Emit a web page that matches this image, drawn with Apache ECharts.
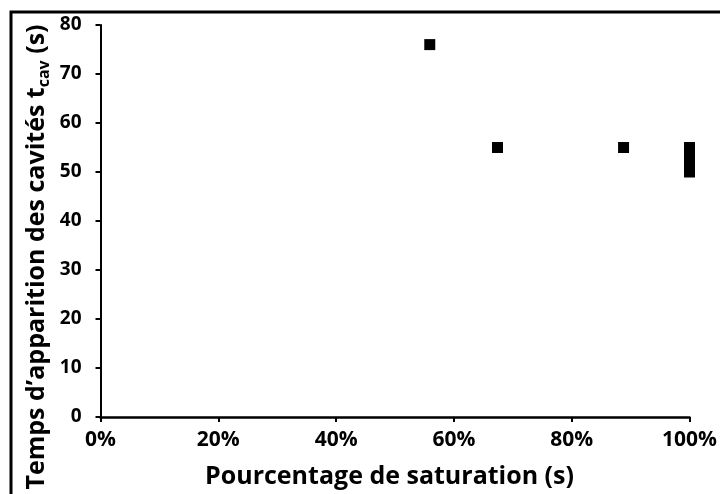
<!DOCTYPE html>
<html>
<head>
<meta charset="utf-8">
<script src="https://cdn.jsdelivr.net/npm/echarts@6/dist/echarts.min.js"></script>
<style>html,body{margin:0;padding:0;background:#fff}#c{width:720px;height:494px}</style>
</head>
<body>
<div id="c"></div>
<script>
var saturationPct = [55.9, 67.4, 88.8, 100, 100, 100, 100, 100, 100];
var tcavSeconds   = [76, 55, 55, 55, 54, 53, 52, 51, 50];
var xTitle = 'Pourcentage de saturation (s)';
var yTitleMain = 'Temps d’apparition des cavités t';
var yTitleSub = 'cav';
var yTitleEnd = ' (s)';

var FONT = 'Open Sans';
var points = saturationPct.map(function (x, i) { return [x, tcavSeconds[i]]; });

var chart = echarts.init(document.getElementById('c'), null, {renderer: 'canvas'});
chart.setOption({
  animation: false,
  backgroundColor: '#ffffff',
  grid: {left: 100.5, right: 25, top: 25, bottom: 76, containLabel: false},
  xAxis: {
    type: 'value', min: 0, max: 100, interval: 20,
    name: xTitle, nameLocation: 'middle', nameGap: 47,
    nameTextStyle: {fontFamily: FONT, fontWeight: 'bold', fontSize: 25, color: '#000', padding: [0, 11, 0, 0]},
    axisLine: {show: true, lineStyle: {color: '#000', width: 2.5}},
    axisTick: {show: true, inside: false, length: 5, lineStyle: {color: '#000', width: 2}},
    axisLabel: {formatter: '{value}%', margin: 13, fontFamily: FONT, fontWeight: 'bold', fontSize: 21, color: '#000'},
    splitLine: {show: false}
  },
  yAxis: {
    type: 'value', min: 0, max: 80, interval: 10,
    axisLine: {show: true, lineStyle: {color: '#000', width: 2}},
    axisTick: {show: true, inside: false, length: 5, lineStyle: {color: '#000', width: 2}},
    axisLabel: {margin: 19, fontFamily: FONT, fontWeight: 'bold', fontSize: 19, color: '#000'},
    splitLine: {show: false}
  },
  graphic: [
    {type: 'rect', shape: {x: 11, y: 12, width: 900, height: 700}, style: {fill: 'none', stroke: '#000', lineWidth: 3}, silent: true, z: 100},
    {type: 'text', x: 37, y: 257, rotation: Math.PI / 2,
      style: {
        text: '{a|' + yTitleMain + '}{s|' + yTitleSub + '}{a|' + yTitleEnd + '}',
        align: 'center', verticalAlign: 'middle',
        rich: {
          a: {fontFamily: FONT, fontWeight: 'bold', fontSize: 25, fill: '#000', lineHeight: 30, verticalAlign: 'middle'},
          s: {fontFamily: FONT, fontWeight: 'bold', fontSize: 16, fill: '#000', lineHeight: 30, padding: [14, 0, 0, 0], verticalAlign: 'middle'}
        }
      }, z: 50}
  ],
  series: [{
    type: 'scatter', data: points, symbol: 'rect', symbolSize: 11,
    itemStyle: {color: '#000', opacity: 1}
  }]
});
</script>
</body>
</html>
